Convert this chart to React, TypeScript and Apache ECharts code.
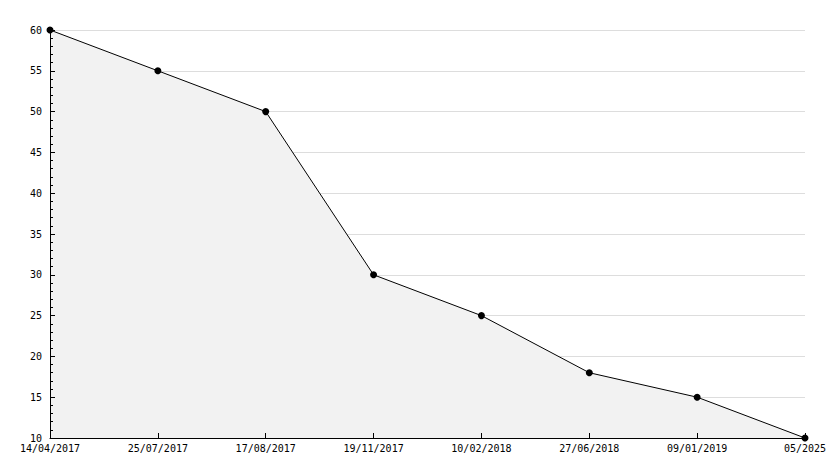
import React, { useEffect, useRef } from "react";
import * as echarts from "echarts";

const categories = ["14/04/2017", "25/07/2017", "17/08/2017", "19/11/2017", "10/02/2018", "27/06/2018", "09/01/2019", "05/2025"];
const values = [60, 55, 50, 30, 25, 18, 15, 10];

export default function App() {
  const ref = useRef<HTMLDivElement>(null);
  useEffect(() => {
    const chart = echarts.init(ref.current!, null, { renderer: "svg" });
    const font = { fontFamily: "DejaVu Sans Mono", fontSize: 10, color: "#000" };
    chart.setOption({
      animation: false,
      grid: { left: 50, right: 29, top: 30, bottom: 30 },
      xAxis: {
        type: "category",
        data: categories,
        boundaryGap: false,
        z: 5,
        axisLine: { lineStyle: { color: "#000", width: 1 } },
        axisTick: { inside: true, length: 5, lineStyle: { color: "#000" } },
        axisLabel: { ...font, margin: 5, interval: 0 },
        splitLine: { show: false },
      },
      yAxis: [
        {
          type: "value",
          min: 10,
          max: 60,
          interval: 5,
          z: 0,
          axisLine: { show: false },
          axisTick: { show: false },
          axisLabel: { show: false },
          splitLine: { show: true, lineStyle: { color: "#dddddd", width: 1 } },
        },
        {
          type: "value",
          position: "left",
          min: 10,
          max: 60,
          interval: 5,
          z: 5,
          axisLine: { show: true, lineStyle: { color: "#000", width: 1 } },
          axisTick: { show: true, inside: true, length: 5, lineStyle: { color: "#000" } },
          minorTick: { show: true, splitNumber: 5, length: 3, lineStyle: { color: "#000" } },
          axisLabel: { ...font, margin: 8 },
          splitLine: { show: false },
        },
      ],
      series: [
        {
          type: "line",
          yAxisIndex: 0,
          data: values,
          symbol: "circle",
          symbolSize: 7,
          itemStyle: { color: "#000" },
          lineStyle: { color: "#000", width: 1 },
          areaStyle: { color: "#f2f2f2", opacity: 1 },
        },
      ],
    });
    return () => chart.dispose();
  }, []);
  return <div ref={ref} style={{ width: 834, height: 468, position: "absolute", left: 0, top: 0 }} />;
}
